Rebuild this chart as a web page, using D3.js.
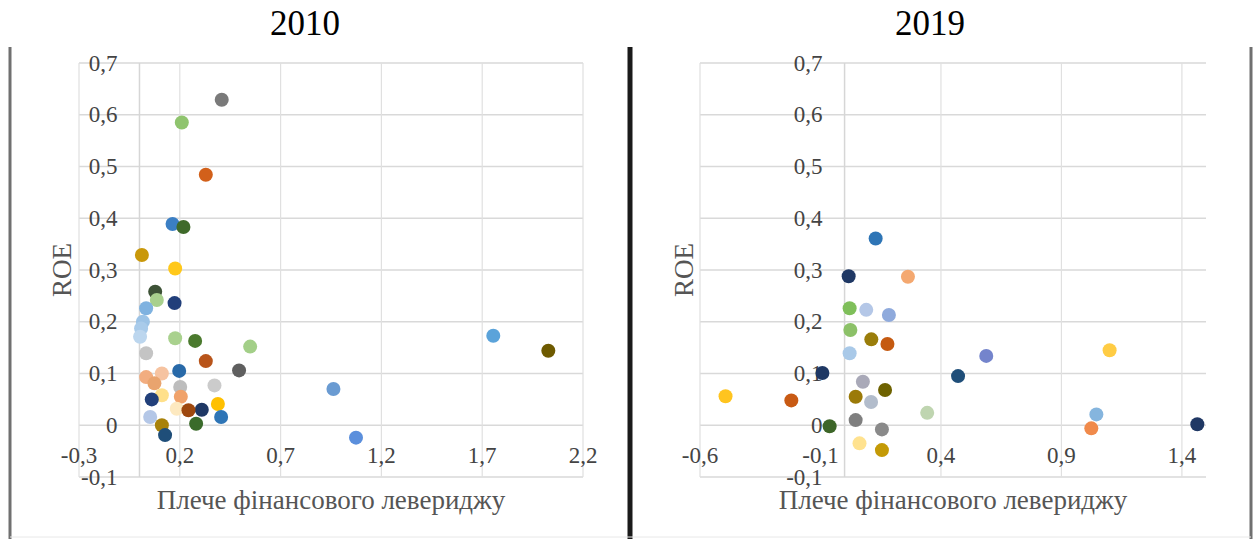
<!DOCTYPE html>
<html>
<head>
<meta charset="utf-8">
<script src="https://cdn.jsdelivr.net/npm/d3@7"></script>
<style>
  body { margin: 0; background: #fff; }
  svg { display: block; }
</style>
</head>
<body>
<div id="chart"></div>
<script>
// 2010: financial leverage vs ROE, one point per company
const lev2010 = [0.408, 0.21, 0.329, 0.164, 0.218, 0.012, 0.177, 0.078, 0.086, 0.174,
  0.033, 0.017, 0.008, 0.003, 0.177, 0.276, 0.549, 0.033, 0.329, 0.494,
  0.197, 0.033, 0.111, 0.074, 0.202, 0.372, 0.205, 0.111, 0.061, 0.309,
  0.389, 0.405, 0.185, 0.243, 0.053, 0.281, 0.111, 0.127, 0.962, 1.074,
  1.755, 2.028];
const roe2010 = [0.629, 0.585, 0.484, 0.389, 0.383, 0.329, 0.303, 0.258, 0.242, 0.236,
  0.226, 0.200, 0.187, 0.171, 0.168, 0.163, 0.152, 0.139, 0.124, 0.106,
  0.105, 0.093, 0.100, 0.081, 0.074, 0.077, 0.055, 0.058, 0.050, 0.030,
  0.041, 0.016, 0.032, 0.029, 0.016, 0.003, 0.000, -0.019, 0.070, -0.024,
  0.173, 0.144];

// 2019
const lev2019 = [0.129, 0.017, 0.263, 0.021, 0.090, 0.184, 0.024, 0.111, 0.178, 0.021,
  -0.092, 0.076, 0.168, 0.046, 0.110, -0.494, -0.221, 0.343, 0.046, -0.062,
  0.155, 0.062, 0.155, 0.471, 0.588, 1.100, 1.045, 1.024, 1.464];
const roe2019 = [0.361, 0.288, 0.287, 0.226, 0.223, 0.213, 0.184, 0.166, 0.157, 0.139,
  0.101, 0.084, 0.068, 0.055, 0.045, 0.056, 0.048, 0.024, 0.010, -0.002,
  -0.008, -0.035, -0.048, 0.095, 0.134, 0.145, 0.021, -0.006, 0.002];

const xTicks2010 = [-0.3, 0.2, 0.7, 1.2, 1.7, 2.2];
const xTicks2019 = [-0.6, -0.1, 0.4, 0.9, 1.4];
const yTicks = [-0.1, 0, 0.1, 0.2, 0.3, 0.4, 0.5, 0.6, 0.7];

// point colours (each company is its own series)
const colors2010 = ["#7a7a7a", "#8fc46e", "#d2601a", "#3b7fc4", "#3f6a2a", "#c9980a", "#ffc81a", "#3d5236", "#a8d08d", "#213f7a",
  "#7fb2e0", "#9cc3e6", "#a9cbea", "#bcd6ee", "#a9d18e", "#4b7a2e", "#a3cf88", "#c4c4c4", "#b8541a", "#5f5f5f",
  "#2869a8", "#f2ad80", "#f6c3a0", "#e9a46e", "#bdbdbd", "#cbcbcb", "#f0a26a", "#ffe08a", "#22407a", "#1f3864",
  "#ffc000", "#2e75b6", "#fde9c0", "#9e480e", "#b4c7e7", "#3a6b2a", "#a8820a", "#1f4e79", "#6a9bd2", "#5b8fdc",
  "#5ba3da", "#6e5a00"];
const colors2019 = ["#2e75b6", "#1f3864", "#f4a870", "#7fbf5a", "#b4c7e7", "#8faadc", "#8cc168", "#9a7d0a", "#c55a11", "#a9c9e8",
  "#1f3864", "#a9a9b8", "#6e6200", "#9b7a08", "#b2bccb", "#ffc41f", "#c85a14", "#bfd5b0", "#7f7f7f", "#3d6628",
  "#8a8a8a", "#ffe28f", "#c49a06", "#1f4e79", "#7484cc", "#ffcc44", "#85b5de", "#f08a4b", "#203864"];

const W = 1254, H = 539;
const fmt = d => d3.format(".1f")(d).replace(".", ",").replace(/^0,0$/, "0").replace(/^-0,0$/, "0");
const fmtTick = d => (Math.abs(d) < 1e-9 ? "0" : d3.format(".1f")(d).replace(".", ",").replace("−", "-"));

const svg = d3.select("#chart").append("svg")
  .attr("width", W)
  .attr("height", H)
  .style("font-family", "'Liberation Serif', 'Times New Roman', serif");

// frame lines
svg.append("line").attr("x1", 10).attr("x2", 10).attr("y1", 47).attr("y2", H)
  .attr("stroke", "#707070").attr("stroke-width", 3);
svg.append("line").attr("x1", 630).attr("x2", 630).attr("y1", 47).attr("y2", H)
  .attr("stroke", "#1a1a1a").attr("stroke-width", 5);
svg.append("line").attr("x1", 1251).attr("x2", 1251).attr("y1", 47).attr("y2", H)
  .attr("stroke", "#707070").attr("stroke-width", 3);
svg.append("line").attr("x1", 10).attr("x2", 1251).attr("y1", 537).attr("y2", 537)
  .attr("stroke", "#e8e8e8").attr("stroke-width", 1);

function drawPanel(opt) {
  const x = d3.scaleLinear().domain(opt.xDomain).range(opt.xRange);
  const y = d3.scaleLinear().domain([-0.1, 0.7]).range([477, 63]);
  const g = svg.append("g");

  // title
  g.append("text")
    .attr("x", opt.titleX).attr("y", 35)
    .attr("text-anchor", "middle")
    .style("font-size", "35px")
    .style("fill", "#000")
    .text(opt.title);

  // horizontal gridlines
  g.selectAll(".hgrid").data(yTicks).enter().append("line")
    .attr("x1", opt.xRange[0]).attr("x2", opt.xRange[1])
    .attr("y1", d => y(d)).attr("y2", d => y(d))
    .attr("stroke", "#d9d9d9").attr("stroke-width", 1.5);

  // vertical gridlines
  g.selectAll(".vgrid").data(opt.gridX).enter().append("line")
    .attr("x1", d => x(d)).attr("x2", d => x(d))
    .attr("y1", y(0.7)).attr("y2", y(-0.1))
    .attr("stroke", "#e0e0e0").attr("stroke-width", 1.2);

  // vertical axis line at x = 0
  g.append("line")
    .attr("x1", x(0)).attr("x2", x(0))
    .attr("y1", y(0.7)).attr("y2", y(-0.1))
    .attr("stroke", "#d6d6d6").attr("stroke-width", 1.5);

  // y tick labels, next to the axis at x = 0
  g.selectAll(".ylab").data(yTicks).enter().append("text")
    .attr("x", x(0) - 22)
    .attr("y", d => y(d) + 7.5)
    .attr("text-anchor", "end")
    .style("font-size", "23px")
    .style("fill", "#444")
    .text(fmtTick);

  // x tick labels
  g.selectAll(".xlab").data(opt.xTicks).enter().append("text")
    .attr("x", d => x(d))
    .attr("y", 463)
    .attr("text-anchor", "middle")
    .style("font-size", "23px")
    .style("fill", "#444")
    .text(fmtTick);

  // axis titles
  g.append("text")
    .attr("x", (opt.xRange[0] + opt.xRange[1]) / 2)
    .attr("y", 509)
    .attr("text-anchor", "middle")
    .style("font-size", "27px")
    .style("fill", "#555")
    .text("Плече фінансового левериджу");

  g.append("text")
    .attr("transform", `translate(${opt.roeX}, 270) rotate(-90)`)
    .attr("text-anchor", "middle")
    .style("font-size", "27px")
    .style("fill", "#555")
    .text("ROE");

  // points
  g.selectAll(".dot").data(opt.lev).enter().append("circle")
    .attr("cx", d => x(d))
    .attr("cy", (d, i) => y(opt.roe[i]))
    .attr("r", 7)
    .attr("fill", (d, i) => opt.colors[i]);
}

drawPanel({
  title: "2010", titleX: 305,
  xDomain: [-0.3, 2.2], xRange: [79, 583],
  xTicks: xTicks2010, gridX: xTicks2010,
  roeX: 71,
  lev: lev2010, roe: roe2010, colors: colors2010
});

drawPanel({
  title: "2019", titleX: 930,
  xDomain: [-0.6, 1.5], xRange: [700, 1206],
  xTicks: xTicks2019, gridX: [-0.6, 0.4, 0.9, 1.4],
  roeX: 693,
  lev: lev2019, roe: roe2019, colors: colors2019
});
</script>
</body>
</html>
